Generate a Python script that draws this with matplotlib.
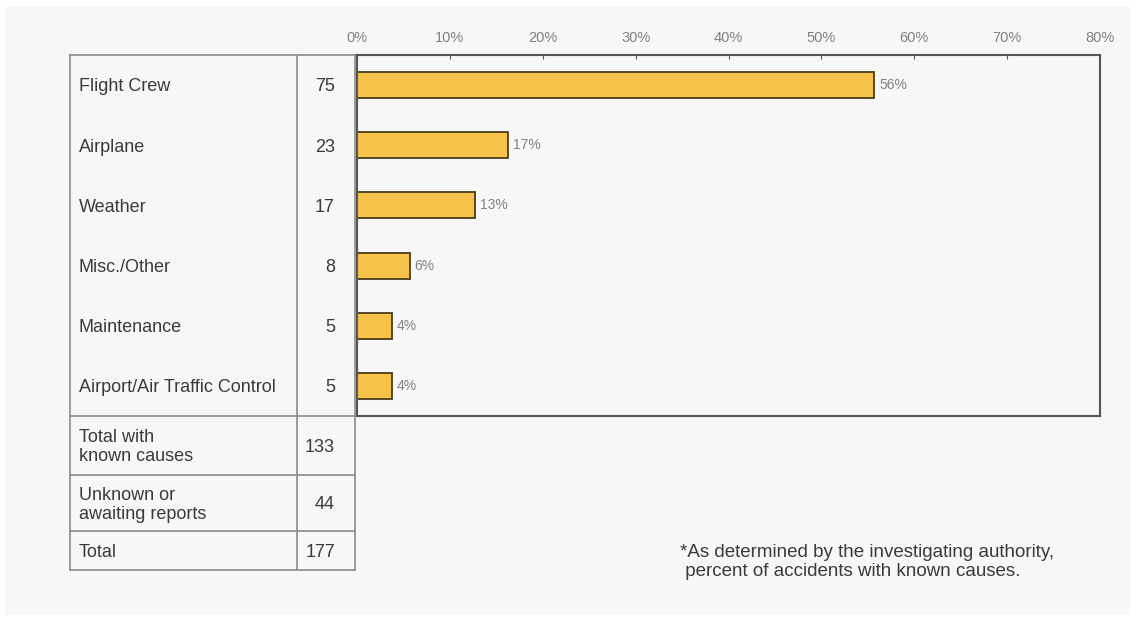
import matplotlib.pyplot as plt
from matplotlib.patches import Rectangle

plt.rcParams['font.family'] = ['Liberation Sans', 'DejaVu Sans']

categories = ['Flight Crew', 'Airplane', 'Weather', 'Misc./Other',
              'Maintenance', 'Airport/Air Traffic Control']
counts = [75, 23, 17, 8, 5, 5]
pct = [55.7, 16.3, 12.7, 5.7, 3.8, 3.8]
pct_labels = ['56%', '17%', '13%', '6%', '4%', '4%']
summary_rows = ['Total with\nknown causes', 'Unknown or\nawaiting reports', 'Total']
summary_counts = [133, 44, 177]
xticks = [0, 10, 20, 30, 40, 50, 60, 70, 80]

W, H = 1136, 621
fig = plt.figure(figsize=(W / 100, H / 100), dpi=100, facecolor='white')
fig.patches.append(Rectangle((5 / W, 1 - 615 / H), 1125 / W, 608 / H,
                             transform=fig.transFigure, facecolor='#f7f7f7',
                             edgecolor='none', zorder=-10))


def px_axes(x0, y0, x1, y1):
    return fig.add_axes([x0 / W, 1 - y1 / H, (x1 - x0) / W, (y1 - y0) / H])


edge = '#555555'
grid = '#8a8a8a'
txt = '#3a3a3a'
light = '#808080'

# bar chart
ax = px_axes(357, 55, 1100, 416)
ax.set_facecolor('#f7f7f7')
ypos = [i + 0.5 for i in range(len(categories))]
ax.barh(ypos, pct, height=0.43, color='#f7c24a', edgecolor='#4a3c18', linewidth=1.3)
for y, v, lab in zip(ypos, pct, pct_labels):
    ax.text(v + 0.5, y, lab, va='center', ha='left', fontsize=10, color=light)
ax.set_xlim(0, 80)
ax.set_ylim(6, 0)
ax.set_xticks(xticks)
ax.set_xticklabels([f'{t}%' for t in xticks], fontsize=10.5, color=light)
ax.xaxis.tick_top()
ax.tick_params(axis='x', direction='in', length=3, color=edge, pad=7)
ax.set_yticks([])
for s in ax.spines.values():
    s.set_color(edge)
    s.set_linewidth(1.5)

# table on the left
tb = px_axes(70, 55, 355, 570)
tb.set_facecolor('#f7f7f7')
row_h = [1] * 6 + [0.98, 0.93, 0.65]
bounds = [0]
for h in row_h:
    bounds.append(bounds[-1] + h)
tb.set_xlim(0, 285)
tb.set_ylim(bounds[-1], 0)
tb.set_xticks([])
tb.set_yticks([])
for s in tb.spines.values():
    s.set_color(grid)
    s.set_linewidth(1.2)
tb.axvline(227, color=grid, lw=1.2)
for b in bounds[6:-1]:
    tb.axhline(b, color=grid, lw=1.2)

labels = categories + summary_rows
values = counts + summary_counts
for i, (lab, val) in enumerate(zip(labels, values)):
    yc = (bounds[i] + bounds[i + 1]) / 2 + 0.03
    tb.text(9, yc, lab, va='center', ha='left', fontsize=13, color=txt,
            linespacing=1.15)
    tb.text(265, yc, str(val), va='center', ha='right', fontsize=13, color=txt)

fig.text(680 / W, 1 - 562 / H,
         '*As determined by the investigating authority,\n percent of accidents with known causes.',
         ha='left', va='center', fontsize=13.5, color=txt, linespacing=1.15)

fig.savefig('out.png', dpi=100, facecolor=fig.get_facecolor())
